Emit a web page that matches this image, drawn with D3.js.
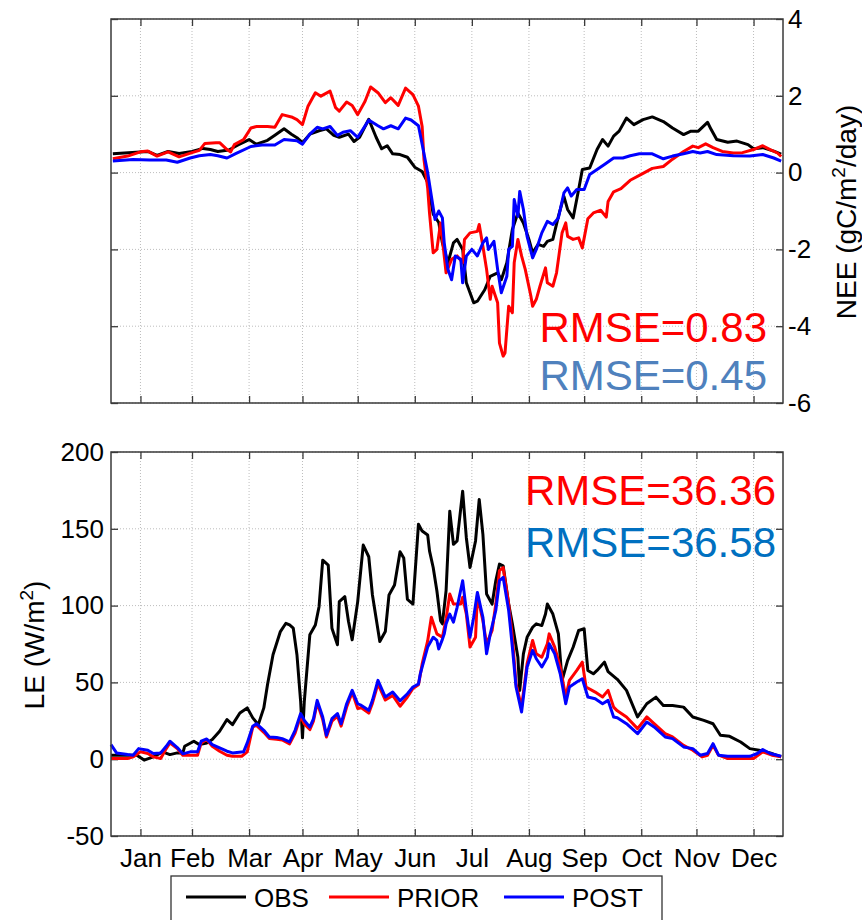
<!DOCTYPE html>
<html>
<head>
<meta charset="utf-8">
<script src="https://cdn.jsdelivr.net/npm/d3@7"></script>
<style>
  body { margin: 0; background: #fff; }
  svg { display: block; font-family: "Liberation Sans", Arial, sans-serif; }
  .grid line { stroke: #bdbdbd; stroke-width: 1; stroke-dasharray: 1 2; }
  .axis path { display: none; }
  .axis line { stroke: #3a3a3a; stroke-width: 1.3; }
  .axis text { fill: #000; }
  .frame { fill: none; stroke: #3a3a3a; stroke-width: 1.5; }
  .series { fill: none; stroke-width: 3; stroke-linejoin: round; }
</style>
</head>
<body>
<svg width="862" height="920"></svg>
<script>
// month ticks (day of year, mid month)
const months = ['Jan', 'Feb', 'Mar', 'Apr', 'May', 'Jun', 'Jul', 'Aug', 'Sep', 'Oct', 'Nov', 'Dec'];
const monthDays = [16, 44, 75, 104, 134, 165, 196, 227, 257, 288, 318, 349];
const neeTicks = [-6, -4, -2, 0, 2, 4];
const leTicks = [-50, 0, 50, 100, 150, 200];

// NEE (gC/m2/day), [day, value]
const neeObs = [[1,0.49],[20,0.55],[25,0.45],[31,0.55],[37,0.5],[44,0.55],[50,0.63],[54,0.6],[58,0.55],[64,0.59],[69,0.72],[75,0.86],[79,0.74],[85,0.84],[89,0.97],[94,1.14],[98,1.0],[101,0.91],[104,0.78],[108,1.0],[113,1.09],[117,1.14],[121,0.97],[124,0.92],[129,1.0],[132,0.81],[135,0.92],[140,1.39],[144,0.92],[147,0.62],[150,0.7],[153,0.49],[157,0.47],[161,0.4],[165,0.14],[169,0.03],[172,-0.25],[175,-1.08],[178,-1.3],[180,-1.83],[183,-2.35],[186,-1.83],[188,-1.74],[191,-2.0],[193,-2.87],[197,-3.39],[199,-3.35],[203,-3.05],[206,-2.7],[210,-2.61],[212,-2.79],[215,-2.35],[218,-1.48],[221,-1.05],[224,-1.31],[227,-1.74],[229,-2.09],[232,-1.87],[235,-1.92],[237,-1.79],[240,-1.74],[243,-1.14],[246,-0.62],[248,-0.96],[251,-1.18],[254,-0.44],[256,0.08],[260,0.12],[264,0.6],[267,0.86],[270,0.69],[273,0.95],[276,1.08],[280,1.42],[284,1.25],[289,1.38],[294,1.45],[300,1.33],[305,1.16],[311,0.99],[315,1.08],[319,1.08],[324,1.31],[326,1.12],[329,0.86],[335,0.79],[340,0.82],[346,0.73],[349,0.62],[354,0.65],[360,0.56],[364,0.48]];
const neePrior = [[1,0.36],[9,0.43],[16,0.54],[20,0.56],[25,0.43],[31,0.54],[37,0.41],[44,0.52],[48,0.58],[51,0.76],[57,0.78],[59,0.78],[63,0.6],[65,0.54],[67,0.73],[72,0.86],[76,1.16],[79,1.2],[85,1.2],[89,1.18],[93,1.51],[98,1.45],[101,1.38],[104,1.25],[107,1.73],[111,2.08],[114,1.99],[119,2.12],[122,1.69],[124,1.6],[128,1.84],[131,1.75],[134,1.51],[138,1.86],[141,2.23],[145,2.08],[149,1.82],[152,1.95],[156,1.75],[160,2.2],[164,2.03],[167,1.73],[169,1.2],[170,0.34],[172,-0.4],[173,-1.05],[175,-2.09],[177,-2.0],[179,-1.31],[180,-1.74],[182,-2.61],[185,-2.26],[188,-2.17],[191,-2.35],[192,-1.74],[195,-1.57],[199,-1.53],[200,-1.35],[202,-1.92],[204,-2.52],[206,-3.3],[207,-2.96],[210,-3.39],[211,-4.44],[213,-4.78],[214,-4.7],[216,-3.48],[218,-3.65],[219,-2.35],[221,-1.74],[223,-2.17],[225,-2.52],[228,-3.2],[229,-3.48],[231,-3.3],[233,-2.96],[236,-2.48],[237,-2.87],[240,-2.96],[242,-2.61],[245,-1.57],[247,-1.31],[248,-1.66],[251,-1.74],[254,-1.7],[256,-1.96],[259,-1.2],[262,-1.05],[266,-0.98],[269,-1.16],[270,-0.75],[273,-0.5],[277,-0.42],[282,-0.2],[289,-0.02],[294,0.11],[300,0.16],[305,0.35],[311,0.55],[316,0.69],[319,0.65],[323,0.75],[327,0.65],[332,0.55],[338,0.51],[343,0.52],[349,0.6],[354,0.7],[358,0.6],[362,0.51],[364,0.42]];
const neePost = [[1,0.3],[12,0.34],[21,0.33],[30,0.33],[36,0.27],[43,0.38],[48,0.44],[54,0.47],[58,0.44],[63,0.38],[68,0.5],[76,0.68],[82,0.72],[89,0.72],[94,0.86],[101,0.83],[104,0.74],[108,1.0],[112,1.18],[115,1.14],[119,1.2],[123,0.97],[126,1.05],[130,1.09],[134,0.92],[137,1.14],[140,1.37],[145,1.22],[148,1.14],[152,1.22],[156,1.14],[160,1.42],[163,1.37],[167,1.22],[169,0.74],[172,0.0],[174,-0.61],[176,-1.22],[178,-1.0],[180,-1.18],[181,-1.83],[183,-2.52],[185,-2.79],[187,-2.17],[190,-2.26],[191,-2.87],[193,-2.17],[196,-2.0],[199,-2.17],[202,-1.83],[204,-1.7],[205,-2.0],[208,-1.79],[210,-2.52],[212,-3.13],[215,-2.7],[216,-2.0],[218,-1.92],[219,-0.7],[221,-1.14],[222,-0.49],[224,-0.96],[226,-1.66],[229,-2.22],[231,-2.0],[234,-1.57],[237,-1.27],[240,-1.35],[243,-1.18],[246,-0.53],[248,-0.4],[250,-0.61],[253,-0.44],[257,-0.44],[260,-0.05],[264,0.08],[268,0.21],[273,0.38],[278,0.38],[282,0.44],[287,0.49],[294,0.49],[300,0.36],[305,0.43],[311,0.49],[316,0.55],[320,0.51],[324,0.55],[329,0.47],[338,0.44],[347,0.43],[354,0.47],[360,0.38],[364,0.3]];

// LE (W/m2), [day, value]
const leObs = [[0,2.6],[9,2.6],[14,2.6],[18,-0.6],[23,1.5],[28,4.8],[32,3],[36,4.1],[39,4],[40,8.4],[45,11.7],[48,9.5],[52,10.6],[55,12.8],[59,18.2],[63,25.8],[66,22.5],[70,30.1],[74,33.4],[77,26.9],[80,22.5],[83,33.4],[85,48.5],[88,68],[92,83.1],[95,88.5],[97,87.4],[99,85.3],[101,68],[103,37.7],[104,13.9],[105,37.7],[108,81],[111,87.4],[113,99.3],[115,129.6],[118,126.4],[120,85.3],[123,74.5],[124,102.6],[127,105.8],[129,89.6],[131,77.7],[134,102.6],[137,139.4],[140,131.8],[142,106.9],[146,76.6],[149,83.1],[151,106.9],[154,113.4],[157,135],[159,131],[161,104],[164,101],[167,153],[169,148.5],[172,146],[173,135.6],[175,124.8],[177,109.7],[179,90.2],[180,88.1],[182,109.7],[184,161.5],[186,139.9],[188,142.1],[191,174.5],[193,144.2],[195,124.8],[198,142.1],[200,169.1],[202,146.4],[204,107.6],[207,101],[209,116.2],[211,127],[213,125.9],[216,101],[218,88.1],[221,66.4],[222,44.8],[224,68.6],[226,79.4],[229,85.9],[231,88.1],[234,87],[236,94.5],[237,101],[240,94.5],[243,81.6],[245,51.3],[248,64.2],[251,72.9],[254,83.8],[257,84.9],[259,57.8],[262,55.6],[264,57.8],[268,63.2],[270,57],[275,52],[280,44.8],[286,27.5],[291,36.1],[296,40.4],[300,35],[305,35],[311,33.9],[316,27.5],[322,25.3],[327,23.1],[331,15.6],[336,14.9],[342,11.2],[347,6.9],[352,5.8],[358,4.1],[364,1.5]];
const lePrior = [[0,0.4],[9,0.4],[12,1.5],[16,4.8],[20,3.7],[23,1.5],[27,0.4],[30,6.9],[32,10.6],[36,6.9],[39,2.6],[43,2.6],[47,2.6],[49,10.6],[52,12.8],[55,8.4],[59,5.2],[63,2.6],[66,1.9],[71,1.9],[74,4.8],[77,21],[79,22],[83,17.5],[86,13.5],[90,13],[93,12.5],[97,10],[100,17],[103,28],[105,23],[108,19.3],[110,25],[112,36.8],[115,25.8],[117,14.5],[120,24.7],[123,28],[125,21.5],[128,34],[131,43.5],[134,33],[136,33.5],[140,30],[142,36.5],[145,49],[149,38.5],[153,41.5],[157,34.5],[161,40.5],[164,46],[167,48.5],[168,55],[169,62],[172,77],[174,92.4],[177,81.6],[180,79.4],[182,91.3],[184,107.6],[186,101],[190,101],[191,105.4],[193,94.5],[195,73],[198,79.4],[199,106.5],[202,90.2],[204,75.1],[207,83.8],[209,101],[211,122.7],[213,124.8],[216,101],[218,79.4],[220,49.1],[223,33.9],[226,62.2],[229,77.3],[231,68.6],[234,66.4],[237,75.1],[238,81.6],[241,73],[244,60],[247,40.5],[249,51.3],[253,57.8],[256,63.2],[258,47],[263,43.7],[267,40.5],[270,44.8],[273,33.9],[275,31.5],[280,27.5],[286,19.9],[291,27.5],[295,23.1],[301,16.6],[305,14.5],[311,9],[316,5.8],[321,1.5],[324,2.6],[327,9],[330,2.6],[335,0.4],[341,0.4],[349,0.4],[354,4.8],[359,2.6],[364,1.5]];
const lePost = [[0,9.5],[3,4.1],[9,3],[12,2.6],[15,6.9],[20,5.8],[23,3.7],[27,4.1],[30,8.4],[32,11.7],[36,7.6],[39,3.5],[43,4.8],[47,4.8],[49,11.7],[52,13.2],[55,9.5],[59,7.4],[63,5.2],[66,4.1],[72,4.8],[74,10.6],[77,21.4],[79,23.1],[83,18.8],[86,14.5],[90,14.1],[93,13.4],[97,11.3],[100,18.8],[103,29.7],[105,25.3],[108,20.9],[110,26.4],[112,38.3],[115,27.5],[117,15.6],[120,26.4],[123,29.7],[125,23.1],[128,36.1],[131,44.8],[134,36.1],[136,35],[140,31.8],[142,38.3],[145,51.3],[149,40.5],[153,43.7],[157,38],[161,42.6],[164,47],[167,49],[168,55.6],[169,60],[172,73],[175,79.4],[177,77.3],[178,71.8],[180,78],[181,81.6],[182,88.1],[184,94.5],[186,89.2],[188,98.9],[191,116.2],[193,96.8],[195,79.4],[197,92.4],[199,108.6],[202,92.4],[204,68.6],[206,81.6],[209,96.8],[211,116.2],[213,118.4],[216,96.8],[218,73],[220,47],[223,30.7],[226,60],[229,70.8],[231,65.4],[234,60],[237,66.4],[238,75.1],[241,68.6],[244,55.6],[247,36.1],[249,47],[253,50.2],[256,52.4],[259,40.5],[263,39.4],[267,36.1],[270,38.3],[273,27.5],[275,27],[280,23.1],[286,16.6],[291,24.2],[295,21],[301,14.5],[305,13.4],[311,8],[316,6.9],[320,2.6],[324,3.7],[327,10.1],[330,2.6],[335,1.9],[347,1.9],[351,3.7],[354,6.3],[358,3.7],[364,1.9]];

const colors = { obs: '#000000', prior: '#ff0000', post: '#0000ff' };

const svg = d3.select('svg');
svg.append('rect').attr('width', 862).attr('height', 920).attr('fill', '#fff');

const left = 111, right = 783;
const x = d3.scaleLinear().domain([0, 365]).range([left, right]);

const yNee = d3.scaleLinear().domain([-6, 4]).range([403, 19]);
const yLe = d3.scaleLinear().domain([-50, 200]).range([836, 452]);

function panel(y, ticks, yAxisSide, showMonths) {
    const [bottom, top] = y.range();
    const g = svg.append('g');

    // dotted grid
    const grid = g.append('g').attr('class', 'grid');
    grid.selectAll('.gx')
        .data(monthDays)
        .enter()
        .append('line')
        .attr('x1', (d) => x(d)).attr('x2', (d) => x(d))
        .attr('y1', top).attr('y2', bottom);
    grid.selectAll('.gy')
        .data(ticks)
        .enter()
        .append('line')
        .attr('x1', left).attr('x2', right)
        .attr('y1', (d) => y(d)).attr('y2', (d) => y(d));

    // ticks point inward on every side
    g.append('g')
        .attr('class', 'axis')
        .attr('transform', `translate(0, ${bottom})`)
        .call(d3.axisBottom(x)
            .tickValues(monthDays)
            .tickSize(-7)
            .tickPadding(13)
            .tickFormat((d, i) => showMonths ? months[i] : ''));
    g.append('g')
        .attr('class', 'axis')
        .attr('transform', `translate(0, ${top})`)
        .call(d3.axisTop(x).tickValues(monthDays).tickSize(-7).tickFormat(''));

    const labelled = yAxisSide === 'right'
        ? d3.axisRight(y).tickPadding(5)
        : d3.axisLeft(y).tickPadding(7);
    const plain = yAxisSide === 'right' ? d3.axisLeft(y) : d3.axisRight(y);

    g.append('g')
        .attr('class', 'axis')
        .attr('transform', `translate(${yAxisSide === 'right' ? right : left}, 0)`)
        .call(labelled.tickValues(ticks).tickSize(-7).tickFormat((d) => String(d)));
    g.append('g')
        .attr('class', 'axis')
        .attr('transform', `translate(${yAxisSide === 'right' ? left : right}, 0)`)
        .call(plain.tickValues(ticks).tickSize(-7).tickFormat(''));

    g.selectAll('.axis text').style('font-size', '26px').attr('font-family', null);
    return g;
}

function drawSeries(g, y, list) {
    const line = d3.line()
        .x((d) => x(d[0]))
        .y((d) => y(d[1]));
    list.forEach(([data, color]) => {
        g.append('path')
            .datum(data)
            .attr('class', 'series')
            .attr('stroke', color)
            .attr('d', line);
    });
}

function frame(y) {
    const [bottom, top] = y.range();
    svg.append('rect')
        .attr('class', 'frame')
        .attr('x', left).attr('y', top)
        .attr('width', right - left).attr('height', bottom - top);
}

// top panel: NEE
const topPanel = panel(yNee, neeTicks, 'right', false);
drawSeries(topPanel, yNee, [[neeObs, colors.obs], [neePrior, colors.prior], [neePost, colors.post]]);
frame(yNee);

const neeLabel = svg.append('text')
    .attr('transform', 'translate(856, 212) rotate(-90)')
    .attr('text-anchor', 'middle')
    .style('font-size', '28px');
neeLabel.append('tspan').text('NEE (gC/m');
neeLabel.append('tspan').attr('dy', -11).style('font-size', '19px').text('2');
neeLabel.append('tspan').attr('dy', 11).text('/day)');

svg.append('text').attr('x', 767).attr('y', 342).attr('text-anchor', 'end')
    .style('font-size', '42px').attr('fill', '#ff0000').text('RMSE=0.83');
svg.append('text').attr('x', 767).attr('y', 390).attr('text-anchor', 'end')
    .style('font-size', '42px').attr('fill', '#4f81bd').text('RMSE=0.45');

// bottom panel: LE
const bottomPanel = panel(yLe, leTicks, 'left', true);
drawSeries(bottomPanel, yLe, [[leObs, colors.obs], [lePrior, colors.prior], [lePost, colors.post]]);
frame(yLe);

const leLabel = svg.append('text')
    .attr('transform', 'translate(44, 645) rotate(-90)')
    .attr('text-anchor', 'middle')
    .style('font-size', '28px');
leLabel.append('tspan').text('LE (W/m');
leLabel.append('tspan').attr('dy', -11).style('font-size', '19px').text('2');
leLabel.append('tspan').attr('dy', 11).text(')');

svg.append('text').attr('x', 776).attr('y', 505).attr('text-anchor', 'end')
    .style('font-size', '42px').attr('fill', '#ff0000').text('RMSE=36.36');
svg.append('text').attr('x', 776).attr('y', 557).attr('text-anchor', 'end')
    .style('font-size', '42px').attr('fill', '#0070c0').text('RMSE=36.58');

// legend
const legendItems = [['OBS', colors.obs, 186], ['PRIOR', colors.prior, 329], ['POST', colors.post, 504]];
const legend = svg.append('g');
legend.append('rect')
    .attr('x', 171).attr('y', 876)
    .attr('width', 491).attr('height', 60)
    .attr('fill', '#fff').attr('stroke', '#333').attr('stroke-width', 1.3);
const items = legend.selectAll('.item')
    .data(legendItems)
    .enter()
    .append('g');
items.append('line')
    .attr('x1', (d) => d[2]).attr('x2', (d) => d[2] + 60)
    .attr('y1', 897).attr('y2', 897)
    .attr('stroke', (d) => d[1]).attr('stroke-width', 3);
items.append('text')
    .attr('x', (d) => d[2] + 68).attr('y', 907)
    .style('font-size', '26px')
    .text((d) => d[0]);
</script>
</body>
</html>
